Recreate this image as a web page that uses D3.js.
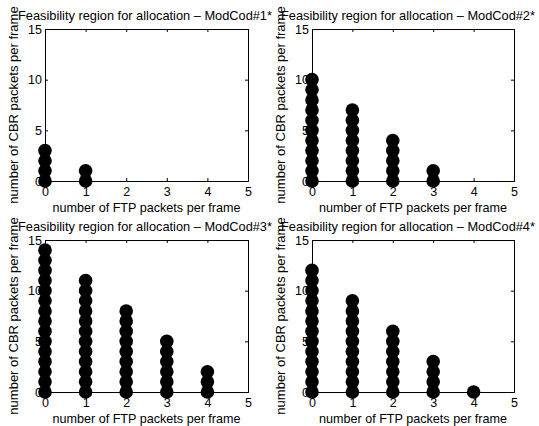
<!DOCTYPE html>
<html>
<head>
<meta charset="utf-8">
<script src="https://cdn.jsdelivr.net/npm/d3@7"></script>
<style>
  html, body { margin: 0; padding: 0; background: #fff; }
  svg { display: block; }
  text { font-family: "Liberation Sans", Arial, Helvetica, sans-serif; fill: #000; }
</style>
</head>
<body>
<svg id="chart" width="539" height="426"></svg>
<script>
// Panel titles
const titles = [
  "Feasibility region for allocation – ModCod#1*",
  "Feasibility region for allocation – ModCod#2*",
  "Feasibility region for allocation – ModCod#3*",
  "Feasibility region for allocation – ModCod#4*"
];
const xLabel = "number of FTP packets per frame";
const yLabel = "number of CBR packets per frame";
const xTicks = [0, 1, 2, 3, 4, 5];
const yTicks = [0, 5, 10, 15];

// Feasible allocations: FTP packet count per column, CBR packet counts in that column
const modcod1Ftp = [0, 1];
const modcod1Cbr = [
  [0, 1, 2, 3],
  [0, 1]
];
const modcod2Ftp = [0, 1, 2, 3];
const modcod2Cbr = [
  [0, 1, 2, 3, 4, 5, 6, 7, 8, 9, 10],
  [0, 1, 2, 3, 4, 5, 6, 7],
  [0, 1, 2, 3, 4],
  [0, 1]
];
const modcod3Ftp = [0, 1, 2, 3, 4];
const modcod3Cbr = [
  [0, 1, 2, 3, 4, 5, 6, 7, 8, 9, 10, 11, 12, 13, 14],
  [0, 1, 2, 3, 4, 5, 6, 7, 8, 9, 10, 11],
  [0, 1, 2, 3, 4, 5, 6, 7, 8],
  [0, 1, 2, 3, 4, 5],
  [0, 1, 2]
];
const modcod4Ftp = [0, 1, 2, 3, 4];
const modcod4Cbr = [
  [0, 1, 2, 3, 4, 5, 6, 7, 8, 9, 10, 11, 12],
  [0, 1, 2, 3, 4, 5, 6, 7, 8, 9],
  [0, 1, 2, 3, 4, 5, 6],
  [0, 1, 2, 3],
  [0]
];

const panels = [
  { ftp: modcod1Ftp, cbr: modcod1Cbr, box: { l: 45, t: 29, r: 248, b: 181 }, titleX: 145 },
  { ftp: modcod2Ftp, cbr: modcod2Cbr, box: { l: 312, t: 29, r: 514, b: 181 }, titleX: 408 },
  { ftp: modcod3Ftp, cbr: modcod3Cbr, box: { l: 45, t: 240, r: 248, b: 392 }, titleX: 145 },
  { ftp: modcod4Ftp, cbr: modcod4Cbr, box: { l: 312, t: 240, r: 514, b: 392 }, titleX: 408 }
];

const svg = d3.select("#chart");
const tickFont = 12.5;
const tickLen = 3;

panels.forEach((p, i) => {
  const { l, t, r, b } = p.box;
  const x = d3.scaleLinear().domain([0, 5]).range([l, r]);
  const y = d3.scaleLinear().domain([0, 15]).range([b, t]);
  const g = svg.append("g");

  // bottom axis (ticks inward, labels below)
  const xa = g.append("g").attr("transform", `translate(0,${b})`)
    .call(d3.axisBottom(x).tickValues(xTicks).tickSize(-tickLen).tickPadding(6).tickFormat(d3.format("d")));
  // left axis
  const ya = g.append("g").attr("transform", `translate(${l},0)`)
    .call(d3.axisLeft(y).tickValues(yTicks).tickSize(-tickLen).tickPadding(3).tickFormat(d3.format("d")));
  // top and right ticks (box)
  const xt = g.append("g").attr("transform", `translate(0,${t})`)
    .call(d3.axisTop(x).tickValues(xTicks).tickSize(-tickLen).tickFormat(""));
  const yr = g.append("g").attr("transform", `translate(${r},0)`)
    .call(d3.axisRight(y).tickValues(yTicks).tickSize(-tickLen).tickFormat(""));

  [xa, ya, xt, yr].forEach(a => {
    a.select(".domain").attr("stroke", "#000").attr("stroke-width", 1);
    a.selectAll(".tick line").attr("stroke", "#000").attr("stroke-width", 1);
    a.selectAll("text").attr("font-size", tickFont)
      .style("font-family", '"Liberation Sans", Arial, sans-serif').attr("fill", "#000");
  });

  // title
  g.append("text")
    .attr("x", p.titleX).attr("y", t - 9)
    .attr("text-anchor", "middle").attr("font-size", 12.8)
    .text(titles[i]);

  // x label
  g.append("text")
    .attr("x", (l + r) / 2).attr("y", b + 31)
    .attr("text-anchor", "middle").attr("font-size", 12.6)
    .text(xLabel);

  // y label
  g.append("text")
    .attr("transform", `translate(${l - 27},${(t + b) / 2}) rotate(-90)`)
    .attr("text-anchor", "middle").attr("font-size", 13)
    .text(yLabel);

  // feasible points
  const pts = [];
  p.ftp.forEach((f, k) => p.cbr[k].forEach(c => pts.push({ f, c })));
  g.append("g").selectAll("circle").data(pts).join("circle")
    .attr("cx", d => x(d.f)).attr("cy", d => y(d.c))
    .attr("r", 6.8).attr("fill", "#000");
});
</script>
</body>
</html>
